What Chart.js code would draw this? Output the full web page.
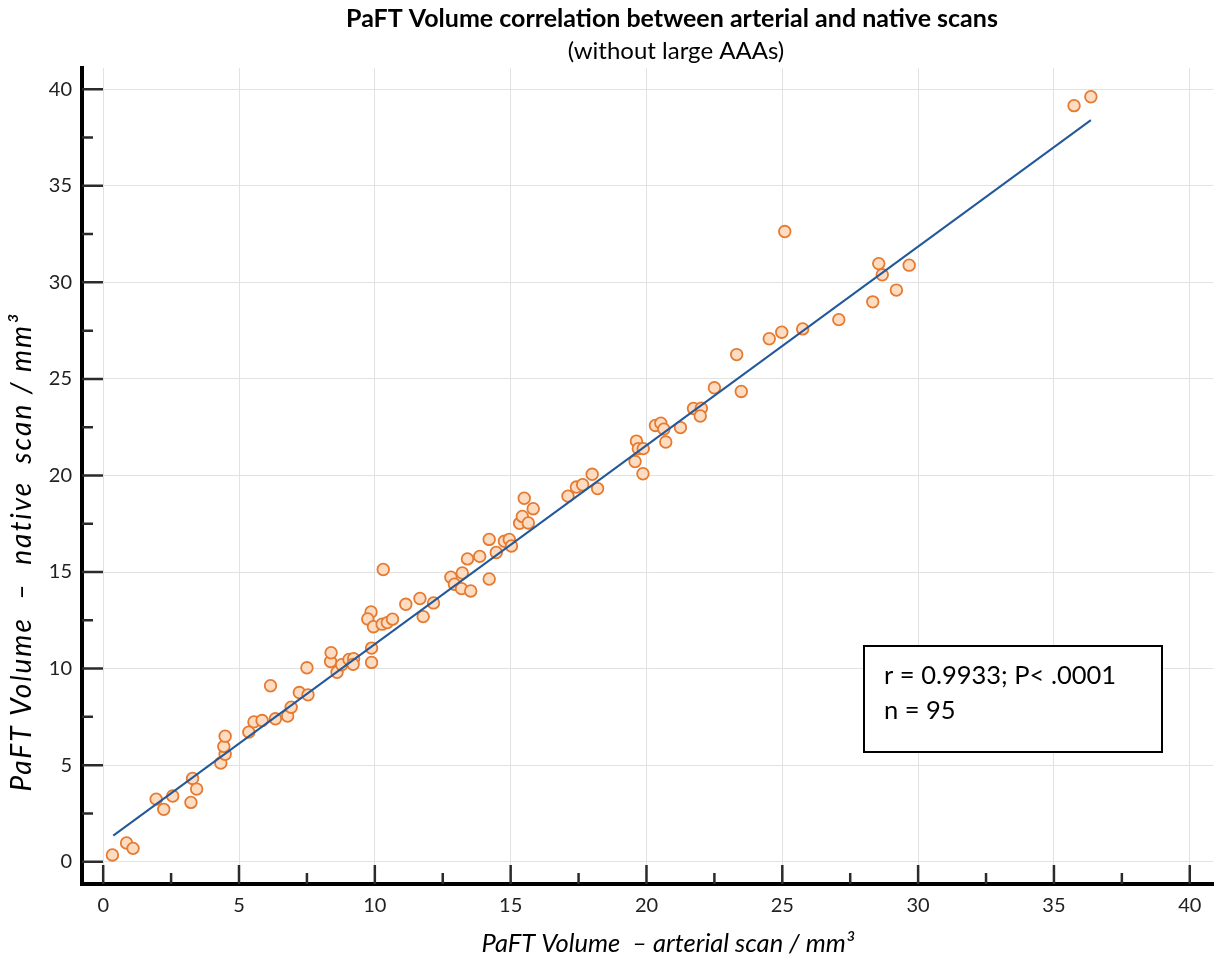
<!DOCTYPE html>
<html lang="en">
<head>
    <meta charset="UTF-8">
    <title>PaFT Volume correlation</title>
    <script src="https://cdn.jsdelivr.net/npm/chart.js"></script>
    <style>
        body { margin: 0; background: #fff; }
        canvas { display: block; }
    </style>
</head>
<body>
    <canvas id="paftChart" width="1221" height="961"></canvas>

    <script>
        // arterial (x) and native (y) volumes, mm3
        const arterial = [
            0.34, 0.86, 1.10, 1.95, 2.23, 2.56, 3.23, 3.29, 3.44, 4.33,
            4.49, 4.44, 4.49, 5.36, 5.55, 5.85, 6.34, 6.16, 6.79, 6.92,
            7.22, 7.54, 7.50, 8.37, 8.39, 8.61, 8.78, 9.05, 9.22, 9.20,
            9.86, 9.74, 9.95, 9.88, 9.88, 10.27, 10.46, 10.65, 10.31, 11.14,
            11.66, 11.78, 12.16, 12.80, 12.93, 13.19, 13.22, 13.53, 13.41, 13.86,
            14.21, 14.21, 14.47, 14.77, 14.95, 15.03, 15.33, 15.43, 15.65, 15.50,
            15.83, 17.11, 17.42, 17.65, 18.00, 18.20, 19.63, 19.70, 19.88, 19.58,
            19.87, 20.33, 20.53, 20.64, 20.71, 21.25, 21.73, 22.02, 21.98, 22.50,
            23.32, 23.49, 24.52, 24.98, 25.09, 25.75, 27.08, 28.33, 28.55, 28.68,
            29.20, 29.67, 35.74, 36.36
        ];
        const native = [
            0.35, 0.97, 0.69, 3.24, 2.71, 3.40, 3.07, 4.31, 3.76, 5.11,
            5.56, 5.97, 6.50, 6.71, 7.24, 7.31, 7.40, 9.11, 7.54, 8.00,
            8.76, 8.64, 10.04, 10.37, 10.82, 9.81, 10.20, 10.47, 10.51, 10.22,
            12.93, 12.57, 12.17, 11.06, 10.32, 12.30, 12.38, 12.56, 15.13, 13.33,
            13.63, 12.69, 13.40, 14.73, 14.37, 14.14, 14.95, 14.02, 15.68, 15.81,
            14.64, 16.69, 16.01, 16.59, 16.69, 16.35, 17.52, 17.88, 17.54, 18.82,
            18.28, 18.93, 19.40, 19.52, 20.06, 19.32, 21.78, 21.39, 21.39, 20.72,
            20.09, 22.59, 22.71, 22.40, 21.73, 22.48, 23.47, 23.48, 23.08, 24.54,
            26.26, 24.35, 27.08, 27.42, 32.63, 27.59, 28.07, 28.99, 30.97, 30.39,
            29.60, 30.89, 39.15, 39.61
        ];

        // regression line end points
        const fitX = [0.37, 36.36];
        const fitY = [1.35, 38.40];

        const xTicks = [0, 5, 10, 15, 20, 25, 30, 35, 40];
        const yTicks = [0, 5, 10, 15, 20, 25, 30, 35, 40];

        const titleText = "PaFT Volume correlation between arterial and native scans";
        const subtitleText = "(without large AAAs)";
        const xTitle = "PaFT Volume  \u2013 arterial scan / mm\u00B3";
        const yTitle = "PaFT Volume  \u2013  native  scan / mm\u00B3";
        const statLines = ["r = 0.9933; P< .0001", "n = 95"];

        const FONT = "Lato, 'Open Sans', sans-serif";

        // major ticks point into the plot, minor ones half way between
        const tickMarks = {
            id: 'tickMarks',
            beforeDatasetsDraw(chart) {
                const ctx = chart.ctx;
                const xs = chart.scales.x, ys = chart.scales.y;
                const area = chart.chartArea;
                ctx.save();
                ctx.strokeStyle = '#2b2b2b';
                ctx.lineWidth = 2.5;
                ctx.beginPath();
                xTicks.forEach(v => {
                    const px = xs.getPixelForValue(v);
                    ctx.moveTo(px, area.bottom); ctx.lineTo(px, area.bottom - 19);
                    if (v + 2.5 < xs.max) {
                        const pm = xs.getPixelForValue(v + 2.5);
                        ctx.moveTo(pm, area.bottom); ctx.lineTo(pm, area.bottom - 11);
                    }
                });
                yTicks.forEach(v => {
                    const py = ys.getPixelForValue(v);
                    ctx.moveTo(area.left, py); ctx.lineTo(area.left + 21, py);
                    if (v + 2.5 < ys.max) {
                        const pm = ys.getPixelForValue(v + 2.5);
                        ctx.moveTo(area.left, pm); ctx.lineTo(area.left + 11, pm);
                    }
                });
                ctx.stroke();
                ctx.restore();
            }
        };

        // titles, axis labels and the stats box
        const texts = {
            id: 'texts',
            afterDraw(chart) {
                const ctx = chart.ctx;
                ctx.save();
                ctx.fillStyle = '#000';
                ctx.textAlign = 'center';
                ctx.textBaseline = 'alphabetic';

                ctx.font = "bold 25px " + FONT;
                ctx.fillText(titleText, 672, 27);
                ctx.font = "24px " + FONT;
                ctx.fillText(subtitleText, 676, 59);

                ctx.font = "italic 25.5px " + FONT;
                ctx.fillText(xTitle, 668, 952);

                ctx.save();
                ctx.translate(31, 552);
                ctx.rotate(-Math.PI / 2);
                ctx.font = "italic 28px " + FONT;
                ctx.letterSpacing = '2px';
                ctx.fillText(yTitle, 0, 0);
                ctx.restore();

                ctx.fillStyle = '#fff';
                ctx.fillRect(864, 646, 298, 106);
                ctx.strokeStyle = '#000';
                ctx.lineWidth = 2;
                ctx.strokeRect(864, 646, 298, 106);
                ctx.fillStyle = '#000';
                ctx.textAlign = 'left';
                ctx.font = "25.5px " + FONT;
                ctx.fillText(statLines[0], 884, 684);
                ctx.fillText(statLines[1], 884, 719);
                ctx.restore();
            }
        };

        new Chart(document.getElementById('paftChart'), {
            type: 'scatter',
            data: {
                datasets: [{
                    type: 'line',
                    data: fitX.map((x, i) => ({ x: x, y: fitY[i] })),
                    borderColor: '#23599a',
                    borderWidth: 2,
                    pointRadius: 0,
                    fill: false
                }, {
                    data: arterial.map((x, i) => ({ x: x, y: native[i] })),
                    backgroundColor: '#fddcc2',
                    borderColor: '#e57a30',
                    borderWidth: 1.8,
                    pointRadius: 5.8
                }]
            },
            plugins: [tickMarks, texts],
            options: {
                responsive: false,
                animation: false,
                layout: { padding: { top: 68, right: 0, bottom: 0, left: 0 } },
                plugins: {
                    legend: { display: false },
                    tooltip: { enabled: false }
                },
                scales: {
                    x: {
                        type: 'linear',
                        min: -0.78,
                        max: 40.87,
                        afterBuildTicks: s => { s.ticks = xTicks.map(v => ({ value: v })); },
                        afterFit: s => { s.height = 77; },
                        grid: { color: '#e2e2e2', lineWidth: 1, drawTicks: false },
                        border: { color: '#000', width: 4 },
                        ticks: {
                            padding: 10,
                            color: '#222',
                            font: { family: FONT, size: 20 }
                        }
                    },
                    y: {
                        type: 'linear',
                        min: -1.155,
                        max: 41.1,
                        afterBuildTicks: s => { s.ticks = yTicks.map(v => ({ value: v })); },
                        afterFit: s => { s.width = 82; },
                        grid: { color: '#e2e2e2', lineWidth: 1, drawTicks: false },
                        border: { color: '#000', width: 4 },
                        ticks: {
                            padding: 10,
                            color: '#222',
                            font: { family: FONT, size: 20 }
                        }
                    }
                }
            }
        });
    </script>
</body>
</html>
